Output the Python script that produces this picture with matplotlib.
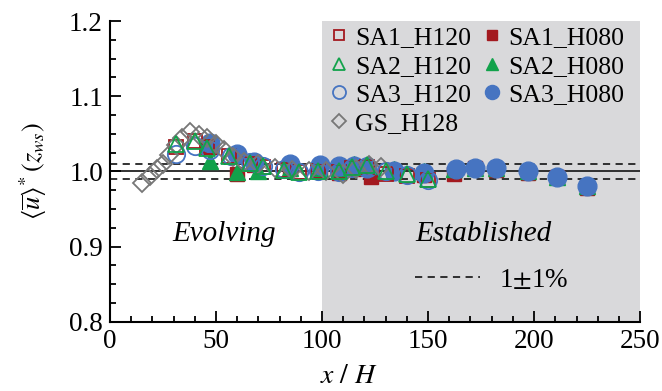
import matplotlib.pyplot as plt
from matplotlib.lines import Line2D
from matplotlib.ticker import MultipleLocator

plt.rcParams['font.family'] = ['Liberation Serif', 'DejaVu Serif']
plt.rcParams['mathtext.fontset'] = 'stix'

# SA1 (red squares)
sa1_h120_x = [31, 40, 46, 56, 66, 72, 82, 89, 98, 108, 114, 121, 130, 140, 150]
sa1_h120_y = [1.032, 1.040, 1.032, 1.020, 1.010, 1.006, 1.002, 0.999, 1.000, 0.999, 1.004, 1.006, 0.997, 0.994, 0.988]
sa1_h080_x = [47, 60, 68, 85, 99, 108, 115, 123, 134, 148, 162, 172, 182, 197, 211, 225]
sa1_h080_y = [1.032, 0.996, 1.008, 1.003, 1.002, 0.998, 1.003, 0.993, 0.999, 0.995, 0.996, 1.004, 1.002, 0.998, 0.992, 0.978]
# SA2 (green triangles)
sa2_h120_x = [31, 40, 46, 56, 66, 72, 82, 89, 98, 108, 114, 121, 130, 140, 150]
sa2_h120_y = [1.036, 1.040, 1.031, 1.021, 1.011, 1.007, 1.002, 0.999, 1.000, 1.000, 1.006, 1.008, 1.001, 0.996, 0.990]
sa2_h080_x = [47, 60, 70, 85, 99, 108, 115, 122, 134, 148, 162, 172, 182, 197, 211, 225]
sa2_h080_y = [1.014, 0.999, 1.000, 1.005, 1.003, 1.004, 1.010, 1.007, 1.003, 1.000, 1.003, 1.005, 1.004, 1.000, 0.993, 0.980]
# SA3 (blue circles)
sa3_h120_x = [31, 40, 47, 57, 66, 72, 82, 89, 98, 108, 114, 121, 130, 140, 150]
sa3_h120_y = [1.023, 1.034, 1.029, 1.020, 1.012, 1.007, 1.003, 0.999, 1.000, 0.999, 1.005, 1.007, 1.000, 0.995, 0.989]
sa3_h080_x = [47, 60, 68, 85, 99, 108, 115, 121, 134, 148, 163, 172, 182, 197, 211, 225]
sa3_h080_y = [1.038, 1.023, 1.013, 1.010, 1.008, 1.007, 1.007, 1.005, 1.000, 0.998, 1.003, 1.005, 1.005, 1.000, 0.993, 0.980]
# GS (grey diamonds)
gs_h128_x = [15, 19, 22, 25, 28, 31, 34, 38, 42, 46, 50, 54, 58, 63, 70, 78, 86, 94, 102, 110, 116, 122, 128]
gs_h128_y = [0.985, 0.994, 1.003, 1.010, 1.022, 1.035, 1.044, 1.052, 1.049, 1.044, 1.036, 1.028, 1.019, 1.012, 1.010, 1.004, 1.002, 1.000, 1.001, 0.997, 1.003, 1.008, 1.006]

red = '#a3191f'
green = '#12a24b'
blue = '#4674c1'
grey = '#777777'

fig = plt.figure(figsize=(6.62, 3.91), dpi=100)
ax = fig.add_axes([0.166, 0.177, 0.801, 0.769])

ax.axvspan(100, 250, color='#d9d9db', zorder=0, lw=0)
ax.axhline(1.0, color='#222222', lw=1.3, zorder=1)
ax.axhline(1.01, color='#222222', lw=1.3, ls=(0, (4, 3)), zorder=1)
ax.axhline(0.99, color='#222222', lw=1.3, ls=(0, (4, 3)), zorder=1)

ms = 11.5
h1, = ax.plot(sa1_h120_x, sa1_h120_y, 's', ms=ms - 1, mfc='none', mec=red, mew=1.3, label='SA1_H120', zorder=3)
h2, = ax.plot(sa1_h080_x, sa1_h080_y, 's', ms=ms - 1, mfc=red, mec=red, label='SA1_H080', zorder=2)
h3, = ax.plot(sa2_h120_x, sa2_h120_y, '^', ms=ms, mfc='none', mec=green, mew=1.3, label='SA2_H120', zorder=4)
h4, = ax.plot(sa2_h080_x, sa2_h080_y, '^', ms=ms, mfc=green, mec=green, label='SA2_H080', zorder=2)
h5, = ax.plot(sa3_h120_x, sa3_h120_y, 'o', ms=ms + 1, mfc='none', mec=blue, mew=1.3, label='SA3_H120', zorder=3)
h6, = ax.plot(sa3_h080_x, sa3_h080_y, 'o', ms=ms + 2, mfc=blue, mec=blue, label='SA3_H080', zorder=2)
h7, = ax.plot(gs_h128_x, gs_h128_y, 'D', ms=ms - 2, mfc='none', mec=grey, mew=1.3, label='GS_H128', zorder=3)

blank = Line2D([], [], ls='none')
leg = ax.legend([h1, h3, h5, h7, h2, h4, h6, blank],
                ['SA1_H120', 'SA2_H120', 'SA3_H120', 'GS_H128', 'SA1_H080', 'SA2_H080', 'SA3_H080', ''],
                ncol=2, loc='upper right', bbox_to_anchor=(1.0, 1.035), frameon=False,
                fontsize=18.5, markerscale=0.75, handlelength=0.6, handletextpad=0.35,
                columnspacing=0.5, labelspacing=0.22, borderaxespad=0.2)
ax.add_artist(leg)
dash = Line2D([], [], color='#222222', lw=1.3, ls=(0, (4, 3)))
ax.legend([dash], [r'1$\pm$1%'], loc='lower left', bbox_to_anchor=(0.53, 0.015),
          frameon=False, fontsize=19.5, handlelength=2.4, handletextpad=0.7)

ax.text(54, 0.917, 'Evolving', style='italic', fontsize=21, ha='center', va='center')
ax.text(176, 0.917, 'Established', style='italic', fontsize=21, ha='center', va='center')

ax.set_xlim(0, 250)
ax.set_ylim(0.8, 1.2)
ax.xaxis.set_major_locator(MultipleLocator(50))
ax.xaxis.set_minor_locator(MultipleLocator(10))
ax.yaxis.set_major_locator(MultipleLocator(0.1))
ax.yaxis.set_minor_locator(MultipleLocator(0.025))
ax.yaxis.set_major_formatter(plt.FormatStrFormatter('%.1f'))
ax.tick_params(which='both', direction='in', labelsize=19.5, width=1.3)
ax.tick_params(which='major', length=8, pad=5)
ax.tick_params(which='minor', length=4)
ax.spines['top'].set_visible(False)
ax.spines['right'].set_visible(False)
for s in ['left', 'bottom']:
    ax.spines[s].set_linewidth(1.5)

ax.set_xlabel(r'$x\ /\ H$', fontsize=20)
ax.xaxis.set_label_coords(0.45, -0.14)
ax.set_ylabel(r'$\langle\overline{u}\rangle^{*}\,(z_{ws})$', fontsize=19)
ax.yaxis.set_label_coords(-0.115, 0.5)

fig.savefig('out.png', dpi=100)
